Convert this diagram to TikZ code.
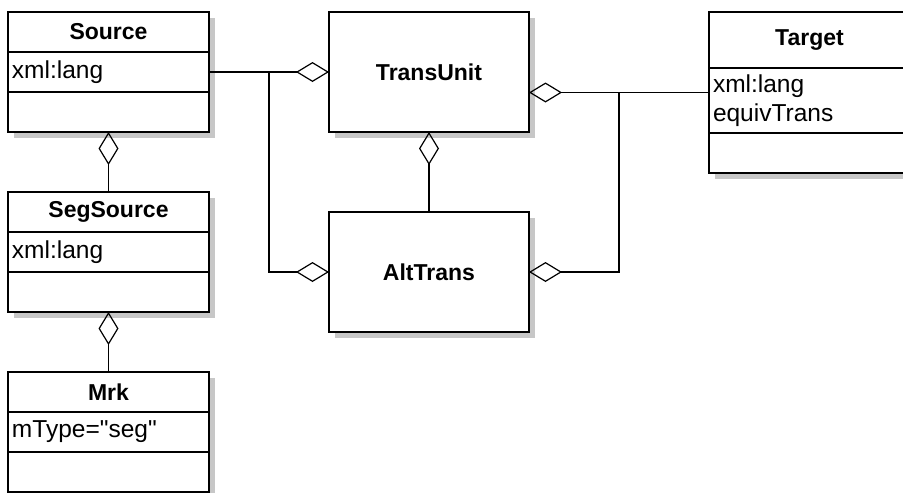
\documentclass[tikz,border=0pt]{standalone}
\usepackage{fontspec}
\setmainfont{Liberation Sans}
\usetikzlibrary{arrows.meta,calc,positioning,shadows}

\begin{document}
\begin{tikzpicture}[x=1pt,y=-1pt,line width=1.2pt]
\tikzstyle{compart}=[draw,line width=1.6pt,fill=white,minimum width=201pt,minimum height=40pt,inner sep=0pt,outer sep=0pt,
  drop shadow={shadow xshift=6pt,shadow yshift=-6pt,fill=black!22,opacity=1}]
\tikzstyle{title}=[compart,font=\bfseries\fontsize{23}{27}\selectfont]
\tikzstyle{attr}=[compart,text width=193pt,align=left,font=\fontsize{24.5}{29}\selectfont]
\tikzstyle{ops}=[compart]
\tikzstyle{box}=[compart,minimum width=200pt,minimum height=120pt,font=\bfseries\fontsize{23}{27}\selectfont]
\tikzstyle{agg}=[{Diamond[open,length=33pt,width=20pt]}-]

\clip (0,0) rectangle (903,493);

% left column
\node[title,anchor=north] (srcname) at (108.5,12) {Source};
\node[attr]   (srcattr) [below=0pt of srcname] {xml:lang};
\node[ops]    (srcops)  [below=0pt of srcattr] {};
\node[title,anchor=north] (segname) at (108.5,192) {SegSource};
\node[attr]   (segattr) [below=0pt of segname] {xml:lang};
\node[ops]    (segops)  [below=0pt of segattr] {};
\node[title,anchor=north] (mrkname) at (108.5,372) {Mrk};
\node[attr]   (mrkattr) [below=0pt of mrkname] {mType=\textquotedbl seg\textquotedbl};
\node[ops]    (mrkops)  [below=0pt of mrkattr] {};

% middle
\node[box,anchor=north] (tu) at (429,12) {TransUnit};
\node[box]    (alt) [below=80pt of tu] {AltTrans};

% right
\node[title,anchor=north,minimum height=56pt] (tgtname) at (809.5,12) {Target};
\node[attr,minimum height=65pt] (tgtattr) [below=0pt of tgtname] {xml:lang\\equivTrans};
\node[ops]    (tgtops)  [below=0pt of tgtattr] {};

\coordinate (jl) at ($(srcattr.east)!0.5!(tu.west)$);
\coordinate (tgtin) at ([yshift=8pt]tgtattr.west);
\coordinate (jr) at ($(tu.east |- tgtin)!0.5!(tgtin)$);

\draw[agg] (tu.west) -- (srcattr.east);
\draw[agg] (alt.west) -| (jl);
\draw[agg] (tu.east |- tgtin) -- (tgtin);
\draw[agg] (alt.east) -| (jr);
\draw[agg] (tu.south) -- (alt.north);
\draw[agg] (srcops.south) -- (segname.north);
\draw[agg] (segops.south) -- (mrkname.north);
\end{tikzpicture}
\end{document}
